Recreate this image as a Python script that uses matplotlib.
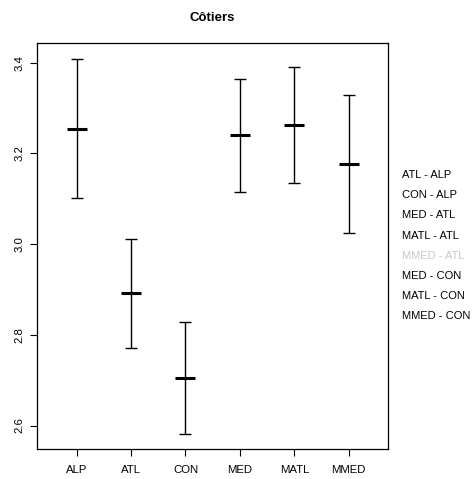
import matplotlib.pyplot as plt
import numpy as np

plt.rcParams['font.family'] = ['Liberation Sans', 'DejaVu Sans']

groups = ["ALP", "ATL", "CON", "MED", "MATL", "MMED"]
means = [3.255, 2.892, 2.705, 3.240, 3.262, 3.177]
lower = [3.101, 2.771, 2.582, 3.116, 3.136, 3.024]
upper = [3.409, 3.012, 2.829, 3.364, 3.390, 3.330]

pairs = ["ATL - ALP", "CON - ALP", "MED - ATL", "MATL - ATL",
         "MMED - ATL", "MED - CON", "MATL - CON", "MMED - CON"]
pair_colors = ["black", "black", "black", "black",
               "#c8c8c8", "black", "black", "black"]

fig = plt.figure(figsize=(4.76, 4.79), dpi=100)
ax = fig.add_axes([0.077, 0.0633, 0.738, 0.8463])

x = np.arange(1, len(groups) + 1)
means = np.array(means)
yerr = [means - np.array(lower), np.array(upper) - means]

ax.errorbar(x, means, yerr=yerr, fmt='none', ecolor='black',
            elinewidth=1, capsize=4, capthick=1)
ax.plot(x, means, linestyle='none', marker='_', markersize=14.5,
        markeredgewidth=2.2, color='black')

ax.set_xlim(0.265, 6.72)
ax.set_ylim(2.549, 3.443)
ax.set_xticks(x)
ax.set_xticklabels(groups)
ax.set_yticks([2.6, 2.8, 3.0, 3.2, 3.4])
ax.set_yticklabels(["2.6", "2.8", "3.0", "3.2", "3.4"], rotation=90, va='center')
ax.tick_params(axis='both', labelsize=8.2, length=5, width=0.8)
ax.tick_params(axis='x', pad=6.5)
ax.tick_params(axis='y', pad=4)
for s in ax.spines.values():
    s.set_linewidth(0.9)

ax.set_title("Côtiers", fontsize=9.5, fontweight='bold', pad=16)

for i, (lab, col) in enumerate(zip(pairs, pair_colors)):
    fig.text(402 / 476, 1 - (175 + 20.2 * i) / 479, lab, color=col,
             fontsize=8, va='center', ha='left')

fig.savefig("out.png", dpi=100)
